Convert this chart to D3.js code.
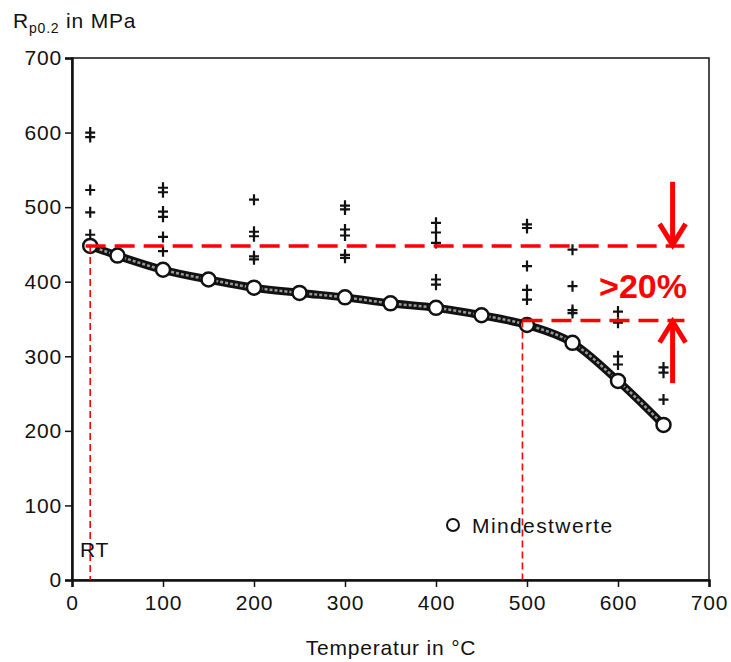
<!DOCTYPE html>
<html>
<head>
<meta charset="utf-8">
<script src="https://d3js.org/d3.v7.min.js"></script>
<style>
  body { margin: 0; background: #fff; }
  text { font-family: "Liberation Sans", Arial, sans-serif; fill: #111; }
</style>
</head>
<body>
<div id="chart"></div>
<script>
// minimum values (circles)
var tempMin = [20, 50, 100, 150, 200, 250, 300, 350, 400, 450, 500, 550, 600, 650];
var rpMin   = [448, 435, 416, 403, 392, 385, 379, 371, 365, 355, 342, 318, 267, 208];

// measured values (crosses), one list per temperature
var tempScatter = [20, 100, 200, 300, 400, 500, 550, 600, 650];
var rpScatter = [
  [600, 594, 523, 493, 463],
  [526, 520, 494, 487, 460, 441],
  [510, 467, 461, 434, 430],
  [502, 497, 470, 462, 436, 432],
  [479, 466, 452, 403, 396],
  [477, 472, 421, 389, 376],
  [443, 394, 362, 358],
  [360, 345, 300, 289],
  [285, 278, 242]
];

var xTicks = [0, 100, 200, 300, 400, 500, 600, 700];
var yTicks = [0, 100, 200, 300, 400, 500, 600, 700];

// red annotation
var rtLevel = 448, dropLevel = 348;
var rtTemp = 20, dropTemp = 495, arrowTemp = 660;

var W = 731, H = 662;
var svg = d3.select("#chart").append("svg").attr("width", W).attr("height", H);

var x = d3.scaleLinear().domain([0, 700]).range([72, 709]);
var y = d3.scaleLinear().domain([0, 700]).range([580, 58]);

var FS = 21, LS = "0.8px";

// frame
svg.append("rect")
  .attr("x", x(0)).attr("y", y(700))
  .attr("width", x(700) - x(0)).attr("height", y(0) - y(700))
  .attr("fill", "none").attr("stroke", "#111").attr("stroke-width", 1.5);

var xAxis = svg.append("g").attr("transform", "translate(0," + y(0) + ")")
  .call(d3.axisBottom(x).tickValues(xTicks).tickSize(7).tickPadding(8));
var yAxis = svg.append("g").attr("transform", "translate(" + x(0) + ",0)")
  .call(d3.axisLeft(y).tickValues(yTicks).tickSize(7).tickPadding(3));
[xAxis, yAxis].forEach(function(a) {
  a.select(".domain").attr("stroke", "#111").attr("stroke-width", 2.5);
  a.selectAll(".tick line").attr("stroke", "#111").attr("stroke-width", 1.5);
  a.selectAll(".tick text").attr("font-size", FS).attr("fill", "#111")
    .style("letter-spacing", LS)
    .attr("font-family", "Liberation Sans, Arial, sans-serif");
});

// crosses
var crossData = [];
tempScatter.forEach(function(t, i) {
  rpScatter[i].forEach(function(v) { crossData.push([t, v]); });
});
svg.append("g").selectAll("path.cross").data(crossData).enter().append("path")
  .attr("class", "cross")
  .attr("d", function(d) {
    var cx = x(d[0]), cy = y(d[1]);
    return "M" + (cx - 5) + "," + cy + "H" + (cx + 5) + "M" + cx + "," + (cy - 5.5) + "V" + (cy + 5.5);
  })
  .attr("stroke", "#111").attr("stroke-width", 2.2);

// curve of minimum values
var minData = tempMin.map(function(t, i) { return [t, rpMin[i]]; });
var line = d3.line().x(function(d) { return x(d[0]); }).y(function(d) { return y(d[1]); })
  .curve(d3.curveMonotoneX);
svg.append("path").datum(minData).attr("d", line)
  .attr("fill", "none").attr("stroke", "#111").attr("stroke-width", 8);
svg.append("path").datum(minData).attr("d", line)
  .attr("fill", "none").attr("stroke", "#999").attr("stroke-width", 2.5)
  .attr("stroke-dasharray", "3,2");

svg.append("g").selectAll("circle").data(minData).enter().append("circle")
  .attr("cx", function(d) { return x(d[0]); })
  .attr("cy", function(d) { return y(d[1]); })
  .attr("r", 7).attr("fill", "#fff").attr("stroke", "#111").attr("stroke-width", 2.5);

// red annotations
var red = "#ff0000";
var ann = svg.append("g");
ann.append("line").attr("x1", x(rtTemp)).attr("x2", x(rtTemp))
  .attr("y1", y(rtLevel)).attr("y2", y(0))
  .attr("stroke", red).attr("stroke-width", 1.6).attr("stroke-dasharray", "7,4");
ann.append("line").attr("x1", x(dropTemp)).attr("x2", x(dropTemp))
  .attr("y1", y(dropLevel)).attr("y2", y(0))
  .attr("stroke", red).attr("stroke-width", 1.6).attr("stroke-dasharray", "7,4");
ann.append("line").attr("x1", x(15)).attr("x2", x(673))
  .attr("y1", y(rtLevel)).attr("y2", y(rtLevel))
  .attr("stroke", red).attr("stroke-width", 3.5).attr("stroke-dasharray", "20,9");
ann.append("line").attr("x1", x(dropTemp)).attr("x2", x(673))
  .attr("y1", y(dropLevel)).attr("y2", y(dropLevel))
  .attr("stroke", red).attr("stroke-width", 3.5).attr("stroke-dasharray", "20,9");

function arrow(fromV, toV) {
  var ax = x(arrowTemp), y0 = y(fromV), y1 = y(toV);
  var dir = y1 > y0 ? 1 : -1;
  ann.append("line").attr("x1", ax).attr("x2", ax).attr("y1", y0).attr("y2", y1 - dir * 2)
    .attr("stroke", red).attr("stroke-width", 5);
  ann.append("path")
    .attr("d", "M" + (ax - 13) + "," + (y1 - dir * 22) + "L" + ax + "," + (y1 - dir * 1) +
               "L" + (ax + 13) + "," + (y1 - dir * 22))
    .attr("fill", "none").attr("stroke", red).attr("stroke-width", 5);
}
arrow(534, rtLevel);
arrow(264, dropLevel);

ann.append("text").attr("x", 643).attr("y", 298).attr("text-anchor", "middle")
  .attr("font-size", 34).attr("font-weight", "bold").style("fill", red).text(">20%");

// labels
var title = svg.append("text").attr("x", 13).attr("y", 28).attr("font-size", FS)
  .style("letter-spacing", LS);
title.append("tspan").text("R");
title.append("tspan").attr("font-size", 14).attr("dy", 5).text("p0.2");
title.append("tspan").attr("dy", -5).text(" in MPa");

svg.append("text").attr("x", 391).attr("y", 655).attr("text-anchor", "middle")
  .attr("font-size", FS).style("letter-spacing", LS).text("Temperatur in °C");

svg.append("text").attr("x", 80).attr("y", 557).attr("font-size", FS)
  .style("letter-spacing", LS).text("RT");

svg.append("circle").attr("cx", 453).attr("cy", 525).attr("r", 6)
  .attr("fill", "#fff").attr("stroke", "#111").attr("stroke-width", 2);
svg.append("text").attr("x", 472).attr("y", 533).attr("font-size", FS)
  .style("letter-spacing", "1.4px").text("Mindestwerte");
</script>
</body>
</html>
